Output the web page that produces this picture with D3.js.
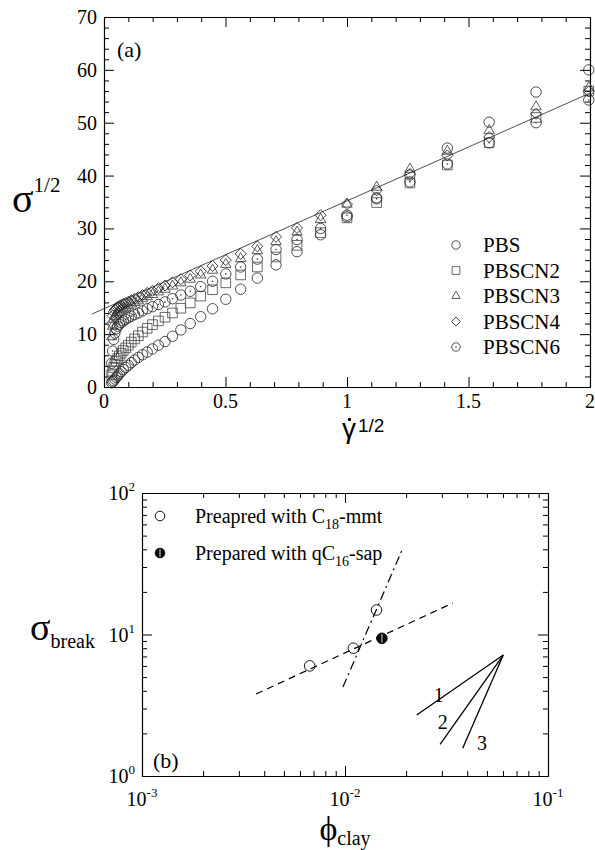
<!DOCTYPE html>
<html><head><meta charset="utf-8">
<script src="https://cdn.jsdelivr.net/npm/d3@7"></script>
<style>body{margin:0;background:#fff}</style>
</head><body>
<svg id="c" width="595" height="850" xmlns="http://www.w3.org/2000/svg"></svg>
<script>
// ---------- DATA: panel (a) ----------
const shearRoot = [0.0316,0.0355,0.0398,0.0447,0.0501,0.0562,0.0631,0.0708,0.0794,0.0891,
  0.1,0.1122,0.1259,0.1413,0.1585,0.1778,0.1995,0.2239,0.2512,0.2818,
  0.3162,0.3548,0.3981,0.4467,0.5012,0.5623,0.6310,0.7079,0.7943,0.8913,
  1.0,1.122,1.259,1.413,1.585,1.778,1.995];
const sPBS = [0.8,1.0,1.2,1.5,1.8,2.1,2.5,2.9,3.3,3.7,4.1,4.6,5.1,5.6,6.1,6.6,7.2,7.9,8.6,9.6,
  10.8,12.0,13.3,14.8,16.6,18.5,20.6,23.1,25.6,28.8,32.2,35.8,40.1,45.2,50.1,55.8,60.0];
const sPBSCN2 = [2.3,3.0,3.7,4.3,4.9,5.4,5.9,6.4,6.9,7.4,7.9,8.5,9.1,9.7,10.4,11.1,11.8,12.5,13.2,14.0,
  14.9,15.9,17.2,18.4,19.7,21.2,22.7,24.6,26.8,29.2,32.0,34.9,38.6,42.0,46.2,51.0,56.0];
const sPBSCN3 = [9.5,11.5,12.8,13.4,13.8,14.1,14.4,14.7,14.9,15.1,15.4,15.7,16.0,16.3,16.7,17.1,17.5,18.0,18.5,19.1,
  19.7,20.4,21.2,22.1,23.2,24.3,25.8,27.5,29.3,31.7,34.6,37.8,41.2,44.6,48.5,53.0,56.6];
const sPBSCN4 = [12.0,13.5,14.2,14.6,14.9,15.1,15.3,15.5,15.7,15.9,16.1,16.4,16.7,17.0,17.4,17.8,18.2,18.7,19.2,19.8,
  20.4,21.1,21.9,22.9,24.0,25.2,26.6,28.4,30.1,32.5,34.6,37.2,40.3,43.8,47.3,51.7,55.9];
const sPBSCN6 = [4.5,6.8,9.0,10.2,11.0,11.5,11.9,12.2,12.5,12.8,13.1,13.4,13.7,14.0,14.4,14.8,15.2,15.6,16.1,16.7,
  17.4,18.1,19.0,20.0,21.4,22.7,24.2,26.0,27.9,30.0,32.5,35.6,38.8,42.2,46.2,50.0,54.3];
const seriesNames = ["PBS","PBSCN2","PBSCN3","PBSCN4","PBSCN6"];
const fitLineX = [-0.05, 2.0];
const fitLineY = [13.8, 55.6];
const xTicksA = [0,0.5,1,1.5,2];
const xTickLabelsA = ["0","0.5","1","1.5","2"];
const yTicksA = [0,10,20,30,40,50,60,70];
const yTickLabelsA = ["0","10","20","30","40","50","60","70"];

// ---------- DATA: panel (b) ----------
const phiC18 = [0.0067,0.0110,0.0143];
const sigC18 = [6.0,8.0,14.9];
const phiQC16 = [0.0152];
const sigQC16 = [9.4];
const dashPhi = [0.00365,0.034];
const dashSig = [3.8,16.7];
const dashDotPhi = [0.00977,0.0193];
const dashDotSig = [4.26,40.9];
const fanApexPhi = 0.0602, fanApexSig = 7.16;
const fanEndPhi = [0.02255,0.0294,0.038];
const fanEndSig = [2.70,1.675,1.57];
const fanLabels = ["1","2","3"];
const fanLabelPhi = [0.029,0.0303,0.0473];
const fanLabelSig = [3.74,2.41,1.71];
const xTicksB = [1e-3,1e-2,1e-1];
const xTickExpB = ["-3","-2","-1"];
const yTicksB = [1,10,100];
const yTickExpB = ["0","1","2"];
const legendB = [["Preapred with C","18","-mmt"],["Prepared with qC","16","-sap"]];

// ---------- DRAW ----------
const svg = d3.select("#c");
svg.append("rect").attr("width",595).attr("height",850).attr("fill","#fff");
const SERIF = "'Liberation Serif','Times New Roman',serif";
const SANS = "'Liberation Sans',Arial,sans-serif";

function frameAxes(g, x, y, xMaj, xMin, yMaj, yMin, big, small){
  const [x0,x1] = x.range(), [y0,y1] = y.range();
  const add = (axisFn, scale, vals, size, tr) => {
    const a = g.append("g").attr("transform",tr)
      .call(axisFn(scale).tickValues(vals).tickSize(-size).tickSizeOuter(0).tickFormat(""));
    a.selectAll("path.domain").attr("stroke","#000").attr("stroke-width",1.1);
    a.selectAll(".tick line").attr("stroke","#000").attr("stroke-width",1);
  };
  add(d3.axisBottom, x, xMaj, big, `translate(0,${y0})`);
  add(d3.axisBottom, x, xMin, small, `translate(0,${y0})`);
  add(d3.axisTop, x, xMaj, big, `translate(0,${y1})`);
  add(d3.axisTop, x, xMin, small, `translate(0,${y1})`);
  add(d3.axisLeft, y, yMaj, big, `translate(${x0},0)`);
  add(d3.axisLeft, y, yMin, small, `translate(${x0},0)`);
  add(d3.axisRight, y, yMaj, big, `translate(${x1},0)`);
  add(d3.axisRight, y, yMin, small, `translate(${x1},0)`);
}

// ===== Panel (a) =====
const xA = d3.scaleLinear().domain([0,2]).range([104,590]);
const yA = d3.scaleLinear().domain([0,70]).range([387,17]);
const gA = svg.append("g");
const xMinorA = d3.range(0,2.0001,0.1).map(v=>+v.toFixed(2)).filter(v=>!xTicksA.includes(v));
const yMinorA = d3.range(0,70.001,2).filter(v=>!yTicksA.includes(v));
frameAxes(gA, xA, yA, xTicksA, xMinorA, yTicksA, yMinorA, 10, 5);

gA.selectAll("text.yl").data(yTicksA).join("text")
  .attr("x",97).attr("y",d=>yA(d)+7).attr("text-anchor","end")
  .attr("font-family",SERIF).attr("font-size",20).text((d,i)=>yTickLabelsA[i]);
gA.selectAll("text.xl").data(xTicksA).join("text")
  .attr("x",d=>xA(d)).attr("y",408).attr("text-anchor","middle")
  .attr("font-family",SERIF).attr("font-size",20).text((d,i)=>xTickLabelsA[i]);

// fit line
gA.append("path")
  .attr("d", d3.line().x(d=>xA(d[0])).y(d=>yA(d[1]))(fitLineX.map((v,i)=>[v,fitLineY[i]])))
  .attr("stroke","#222").attr("stroke-width",0.8).attr("fill","none");

// markers
const mk = {
  PBS:   s => d3.symbol(d3.symbolCircle, Math.PI*s*s)(),
  PBSCN2:s => d3.symbol(d3.symbolSquare, (1.85*s)*(1.85*s))(),
  PBSCN3:s => d3.symbol(d3.symbolTriangle, 1.75*s*s)(),
  PBSCN4:s => d3.symbol(d3.symbolSquare, (1.5*s)*(1.5*s))(),
  PBSCN6:s => d3.symbol(d3.symbolCircle, Math.PI*s*s)()
};
const rot = {PBS:0,PBSCN2:0,PBSCN3:0,PBSCN4:45,PBSCN6:0};
const seriesVals = {PBS:sPBS,PBSCN2:sPBSCN2,PBSCN3:sPBSCN3,PBSCN4:sPBSCN4,PBSCN6:sPBSCN6};
const strokeCol = {PBS:"#222",PBSCN2:"#444",PBSCN3:"#333",PBSCN4:"#222",PBSCN6:"#222"};

seriesNames.forEach(name=>{
  const vals = seriesVals[name];
  const pts = shearRoot.map((x,i)=>[x,vals[i]]);
  const g = gA.append("g");
  g.selectAll("path").data(pts).join("path")
    .attr("d", mk[name](5.2))
    .attr("transform", d=>`translate(${xA(d[0])},${yA(d[1])}) rotate(${rot[name]})`)
    .attr("fill","none").attr("stroke",strokeCol[name]).attr("stroke-width",0.8);
  if(name==="PBSCN6"){
    g.selectAll("circle").data(pts).join("circle")
      .attr("cx",d=>xA(d[0])).attr("cy",d=>yA(d[1])).attr("r",0.8).attr("fill","#333");
  }
});

// legend (a)
const legA = gA.append("g");
seriesNames.forEach((name,i)=>{
  const cy = 245 + i*25.5;
  legA.append("path").attr("d", mk[name](4.2))
    .attr("transform",`translate(456,${cy}) rotate(${rot[name]})`)
    .attr("fill","none").attr("stroke",strokeCol[name]).attr("stroke-width",0.8);
  if(name==="PBSCN6") legA.append("circle").attr("cx",456).attr("cy",cy).attr("r",0.8).attr("fill","#333");
  legA.append("text").attr("x",483).attr("y",cy+7).attr("font-family",SERIF).attr("font-size",21).text(name);
});

gA.append("text").attr("x",117).attr("y",57).attr("font-family",SERIF).attr("font-size",22).text("(a)");

// axis titles (a)
const ytA = gA.append("text").attr("x",12).attr("y",212).attr("font-family",SERIF);
ytA.append("tspan").attr("font-size",40).text("σ");
ytA.append("tspan").attr("font-size",21).attr("dy",-20).text("1/2");

const xtA = gA.append("text").attr("x",342).attr("y",438).attr("font-family",SANS);
xtA.append("tspan").attr("font-size",28).text("γ");
xtA.append("tspan").attr("font-size",19).attr("dx",2).attr("dy",-6).text("1/2");
// dot accent of gamma (drawn as a mark)
gA.append("circle").attr("cx",349.5).attr("cy",419.5).attr("r",1.7).attr("fill","#000");

// ===== Panel (b) =====
const xB = d3.scaleLog().domain([1e-3,1e-1]).range([142,548]);
const yB = d3.scaleLog().domain([1,100]).range([776,493]);
const gB = svg.append("g");
const xMinorB = xB.ticks().filter(v=>!xTicksB.some(t=>Math.abs(t-v)/t<1e-6));
const yMinorB = yB.ticks().filter(v=>!yTicksB.some(t=>Math.abs(t-v)/t<1e-6));
frameAxes(gB, xB, yB, xTicksB, xMinorB, yTicksB, yMinorB, 10, 5);

xTicksB.forEach((v,i)=>{
  const t = gB.append("text").attr("x",xB(v)).attr("y",806).attr("text-anchor","middle").attr("font-family",SERIF);
  t.append("tspan").attr("font-size",20).text("10");
  t.append("tspan").attr("font-size",13).attr("dy",-9).text(xTickExpB[i]);
});
yTicksB.forEach((v,i)=>{
  const t = gB.append("text").attr("x",135).attr("y",yB(v)+7).attr("text-anchor","end").attr("font-family",SERIF);
  t.append("tspan").attr("font-size",20).text("10");
  t.append("tspan").attr("font-size",13).attr("dy",-9).text(yTickExpB[i]);
});

const lineB = d3.line().x(d=>xB(d[0])).y(d=>yB(d[1]));
gB.append("path").attr("d", lineB(dashPhi.map((v,i)=>[v,dashSig[i]])))
  .attr("stroke","#000").attr("stroke-width",1.2).attr("fill","none").attr("stroke-dasharray","7,5");
gB.append("path").attr("d", lineB(dashDotPhi.map((v,i)=>[v,dashDotSig[i]])))
  .attr("stroke","#000").attr("stroke-width",1.2).attr("fill","none").attr("stroke-dasharray","9,4,2,4");
fanEndPhi.forEach((p,i)=>{
  gB.append("path").attr("d", lineB([[fanApexPhi,fanApexSig],[p,fanEndSig[i]]]))
    .attr("stroke","#000").attr("stroke-width",1.3).attr("fill","none");
});
fanLabels.forEach((t,i)=>{
  gB.append("text").attr("x",xB(fanLabelPhi[i])).attr("y",yB(fanLabelSig[i])+7).attr("text-anchor","middle")
    .attr("font-family",SERIF).attr("font-size",20).text(t);
});

gB.selectAll("circle.c18").data(phiC18.map((p,i)=>[p,sigC18[i]])).join("circle")
  .attr("cx",d=>xB(d[0])).attr("cy",d=>yB(d[1])).attr("r",5.3)
  .attr("fill","none").attr("stroke","#000").attr("stroke-width",0.9);
function filledMarker(g,cx,cy,r){
  g.append("circle").attr("cx",cx).attr("cy",cy).attr("r",r).attr("fill","#000").attr("stroke","#000").attr("stroke-width",0.9);
  g.append("line").attr("x1",cx).attr("x2",cx).attr("y1",cy-r+1).attr("y2",cy+r-1).attr("stroke","#fff").attr("stroke-width",0.9);
}
phiQC16.forEach((p,i)=>filledMarker(gB, xB(p), yB(sigQC16[i]), 5.3));

// legend (b)
const legY = [516,553];
gB.append("circle").attr("cx",160).attr("cy",legY[0]).attr("r",4.8).attr("fill","none").attr("stroke","#000").attr("stroke-width",0.9);
filledMarker(gB,160,legY[1],4.8);
legendB.forEach((parts,i)=>{
  const t = gB.append("text").attr("x",195).attr("y",legY[i]+7).attr("font-family",SERIF);
  t.append("tspan").attr("font-size",20).text(parts[0]);
  t.append("tspan").attr("font-size",14).attr("dy",6).text(parts[1]);
  t.append("tspan").attr("font-size",20).attr("dy",-6).text(parts[2]);
});

gB.append("text").attr("x",153).attr("y",768).attr("font-family",SERIF).attr("font-size",22).text("(b)");

const ytB = gB.append("text").attr("x",30).attr("y",640).attr("font-family",SERIF);
ytB.append("tspan").attr("font-size",38).text("σ");
ytB.append("tspan").attr("font-size",20).attr("dy",8).text("break");

const xtB = gB.append("text").attr("x",345).attr("y",840).attr("font-family",SERIF).attr("text-anchor","middle");
xtB.append("tspan").attr("font-size",34).text("ϕ");
xtB.append("tspan").attr("font-size",20).attr("dy",5).text("clay");
</script>
</body></html>
